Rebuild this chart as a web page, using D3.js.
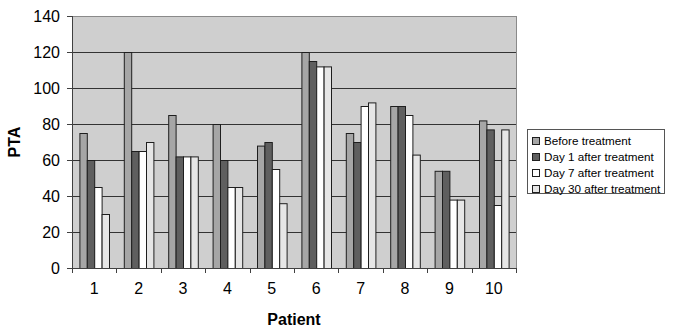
<!DOCTYPE html>
<html lang="en">
<head>
    <meta charset="UTF-8">
    <title>PTA by patient</title>
    <script type="text/javascript" src="https://cdn.jsdelivr.net/npm/d3@7/dist/d3.min.js"></script>
    <style>
        body {
            margin: 0;
            background: #fff;
        }

        .axis path,
        .axis line {
            stroke: #404040;
            shape-rendering: crispEdges;
        }

        .axis text {
            font-family: "Liberation Sans", Arial, sans-serif;
            font-size: 16px;
            fill: #000;
        }

        .title {
            font-family: "Liberation Sans", Arial, sans-serif;
            font-weight: bold;
            font-size: 16px;
        }
    </style>
</head>
<body>
<script type="text/javascript">
    var w = 680;
    var h = 335;

    var patients = ["1", "2", "3", "4", "5", "6", "7", "8", "9", "10"];
    var seriesNames = ["Before treatment", "Day 1 after treatment", "Day 7 after treatment", "Day 30 after treatment"];
    var before = [75, 120, 85, 80, 68, 120, 75, 90, 54, 82];
    var day1 = [60, 65, 62, 60, 70, 115, 70, 90, 54, 77];
    var day7 = [45, 65, 62, 45, 55, 112, 90, 85, 38, 35];
    var day30 = [30, 70, 62, 45, 36, 112, 92, 63, 38, 77];
    var yTicks = [0, 20, 40, 60, 80, 100, 120, 140];

    var colors = ["#a6a6a6", "#5f5f5f", "#ffffff", "#e6e6e6"];
    var allSeries = [before, day1, day7, day30];

    // plot area edges
    var plotLeft = 72, plotRight = 516, plotTop = 16, plotBottom = 268;

    var xScale = d3.scaleBand()
        .domain(patients)
        .range([plotLeft, plotRight]);

    var subScale = d3.scaleBand()
        .domain(d3.range(seriesNames.length))
        .range([0, xScale.bandwidth()])
        .paddingOuter(1);

    var yScale = d3.scaleLinear()
        .domain([0, 140])
        .range([plotBottom, plotTop]);

    var svg = d3.select("body")
        .append("svg")
        .attr("width", w)
        .attr("height", h);

    // plot background
    svg.append("rect")
        .attr("x", plotLeft)
        .attr("y", plotTop)
        .attr("width", plotRight - plotLeft)
        .attr("height", plotBottom - plotTop)
        .attr("fill", "#cfcfcf")
        .attr("stroke", "#8a8a8a")
        .attr("shape-rendering", "crispEdges");

    // gridlines
    svg.append("g")
        .selectAll("line")
        .data(yTicks.filter(function (d) { return d > 0 && d < 140; }))
        .enter()
        .append("line")
        .attr("x1", plotLeft)
        .attr("x2", plotRight)
        .attr("y1", function (d) { return Math.round(yScale(d)) + 0.5; })
        .attr("y2", function (d) { return Math.round(yScale(d)) + 0.5; })
        .attr("stroke", "#333")
        .attr("stroke-width", 1.2);

    // bars
    var rows = [];
    patients.forEach(function (p, i) {
        allSeries.forEach(function (s, j) {
            rows.push({ patient: p, series: j, value: s[i] });
        });
    });

    svg.append("g")
        .selectAll("rect")
        .data(rows)
        .enter()
        .append("rect")
        .attr("x", function (d) { return xScale(d.patient) + subScale(d.series) + 0.5; })
        .attr("y", function (d) { return yScale(d.value) + 0.5; })
        .attr("width", subScale.bandwidth())
        .attr("height", function (d) { return yScale(0) - yScale(d.value); })
        .attr("fill", function (d) { return colors[d.series]; })
        .attr("stroke", "#1e1e1e")
        .attr("stroke-width", 1);

    // y axis
    var yAxis = d3.axisLeft(yScale)
        .tickValues(yTicks)
        .tickSize(5)
        .tickPadding(7);

    svg.append("g")
        .attr("class", "axis")
        .attr("transform", "translate(" + plotLeft + ",0)")
        .call(yAxis)
        .selectAll("text")
        .attr("dy", "0.36em");

    // x axis: tick marks at category boundaries
    var xLin = d3.scaleLinear()
        .domain([0, patients.length])
        .range([plotLeft, plotRight]);

    svg.append("g")
        .attr("class", "axis")
        .attr("transform", "translate(0," + plotBottom + ")")
        .call(d3.axisBottom(xLin).ticks(patients.length).tickSize(5).tickFormat(""));

    var xAxis = d3.axisBottom(xScale)
        .tickSize(0)
        .tickPadding(15);

    var xg = svg.append("g")
        .attr("class", "axis")
        .attr("transform", "translate(0," + plotBottom + ")")
        .call(xAxis);
    xg.select(".domain").remove();

    // axis titles
    svg.append("text")
        .attr("class", "title")
        .attr("x", (plotLeft + plotRight) / 2)
        .attr("y", 325)
        .attr("text-anchor", "middle")
        .text("Patient");

    svg.append("text")
        .attr("class", "title")
        .attr("transform", "translate(20," + ((plotTop + plotBottom) / 2) + ") rotate(-90)")
        .attr("text-anchor", "middle")
        .text("PTA");

    // legend
    var legend = svg.append("g")
        .attr("transform", "translate(527,129)");

    legend.append("rect")
        .attr("x", 0.5)
        .attr("y", 0.5)
        .attr("width", 137)
        .attr("height", 64)
        .attr("fill", "#fff")
        .attr("stroke", "#555");

    var item = legend.selectAll("g.item")
        .data(seriesNames)
        .enter()
        .append("g")
        .attr("class", "item")
        .attr("transform", function (d, i) { return "translate(0," + (8 + i * 16) + ")"; });

    item.append("rect")
        .attr("x", 5.5)
        .attr("y", 0.5)
        .attr("width", 7)
        .attr("height", 7)
        .attr("fill", function (d, i) { return colors[i]; })
        .attr("stroke", "#1e1e1e");

    item.append("text")
        .attr("x", 17)
        .attr("y", 8)
        .attr("font-family", "Liberation Sans, Arial, sans-serif")
        .attr("font-size", "11.7px")
        .text(function (d) { return d; });
</script>
</body>
</html>
